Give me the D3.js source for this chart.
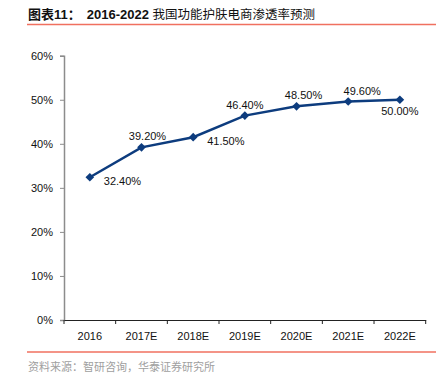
<!DOCTYPE html>
<html><head><meta charset="utf-8">
<script src="https://cdn.jsdelivr.net/npm/d3@7"></script>
<style>body{margin:0;background:#fff}svg{display:block}</style>
</head><body>
<script>
const categories = ["2016","2017E","2018E","2019E","2020E","2021E","2022E"];
const values = [32.4, 39.2, 41.5, 46.4, 48.5, 49.6, 50.0];
const labels = ["32.40%","39.20%","41.50%","46.40%","48.50%","49.60%","50.00%"];
const yTicks = [0,10,20,30,40,50,60];
// label placement: r = right, a = above, b = below
const labelPos = ["r","a","r","a","a","a","b"];

const W=436,H=385;
const svg=d3.select("body").append("svg").attr("width",W).attr("height",H);
const font="Liberation Sans, Arial, sans-serif";

// title
const t=svg.append("text").attr("x",28).attr("y",19).attr("font-size",13).attr("font-weight","bold").attr("fill","#111")
  .attr("font-family","Liberation Sans, Arial, 'Noto Sans CJK SC', sans-serif");
t.append("tspan").text("图表11：");
t.append("tspan").attr("dx",6).text("2016-2022 ");
t.append("tspan").attr("font-family","'Noto Sans CJK SC', sans-serif").attr("font-weight","normal").attr("font-size",12.5).text("我国功能护肤电商渗透率预测");
svg.append("line").attr("x1",27).attr("x2",436).attr("y1",24.5).attr("y2",24.5).attr("stroke","#f0705f").attr("stroke-width",1.5);

const x=d3.scaleBand().domain(categories).range([64,425.7]);
const y=d3.scaleLinear().domain([0,60]).range([320,55.7]);

// y axis
const ya=svg.append("g").attr("transform","translate(64,0)")
  .call(d3.axisLeft(y).tickValues(yTicks).tickSize(4).tickPadding(7).tickFormat(d=>d+"%"));
ya.select(".domain").attr("stroke","#8c8c8c").attr("stroke-width",1.5);
ya.selectAll(".tick line").attr("stroke","#8c8c8c");
ya.selectAll("text").attr("font-family",font).attr("font-size",11).attr("fill","#111");

// x axis
const xa=svg.append("g").attr("transform","translate(0,320)")
  .call(d3.axisBottom(x).tickSize(0).tickPadding(12));
xa.select(".domain").attr("stroke","#222").attr("stroke-width",1);
xa.selectAll("text").attr("font-family",font).attr("font-size",11).attr("fill","#111");
const edges=categories.map(c=>x(c)).concat([x.range()[1]]);
svg.append("g").selectAll("line").data(edges).join("line")
  .attr("x1",d=>d).attr("x2",d=>d).attr("y1",320).attr("y2",324).attr("stroke","#222");

const cx=(d,i)=>x(categories[i])+x.bandwidth()/2;
const line=d3.line().x((d,i)=>cx(d,i)).y(d=>y(d));
const color="#0d3c7e";
svg.append("path").datum(values).attr("d",line).attr("fill","none").attr("stroke",color).attr("stroke-width",2.5);
svg.append("g").selectAll("path").data(values).join("path")
  .attr("transform",(d,i)=>`translate(${cx(d,i)},${y(d)})`)
  .attr("d",d3.symbol(d3.symbolDiamond2,48)()).attr("fill",color);

svg.append("g").selectAll("text").data(values).join("text")
  .attr("font-family",font).attr("font-size",11).attr("fill","#111")
  .attr("x",(d,i)=>{const p=labelPos[i];return p==="r"?cx(d,i)+14:cx(d,i)+ (i===1?6:i===4?7:i===5?14:0);})
  .attr("y",(d,i)=>{const p=labelPos[i];return p==="r"?y(d)+8:p==="a"?y(d)-7:y(d)+15;})
  .attr("text-anchor",(d,i)=>labelPos[i]==="r"?"start":"middle")
  .text((d,i)=>labels[i]);

svg.append("line").attr("x1",27).attr("x2",436).attr("y1",352).attr("y2",352).attr("stroke","#f0705f").attr("stroke-width",1.5);
svg.append("text").attr("x",28).attr("y",371).attr("font-size",11).attr("fill","#a0a0a0")
  .attr("font-family","'Noto Sans CJK SC', sans-serif").text("资料来源：智研咨询，华泰证券研究所");
</script>
</body></html>
